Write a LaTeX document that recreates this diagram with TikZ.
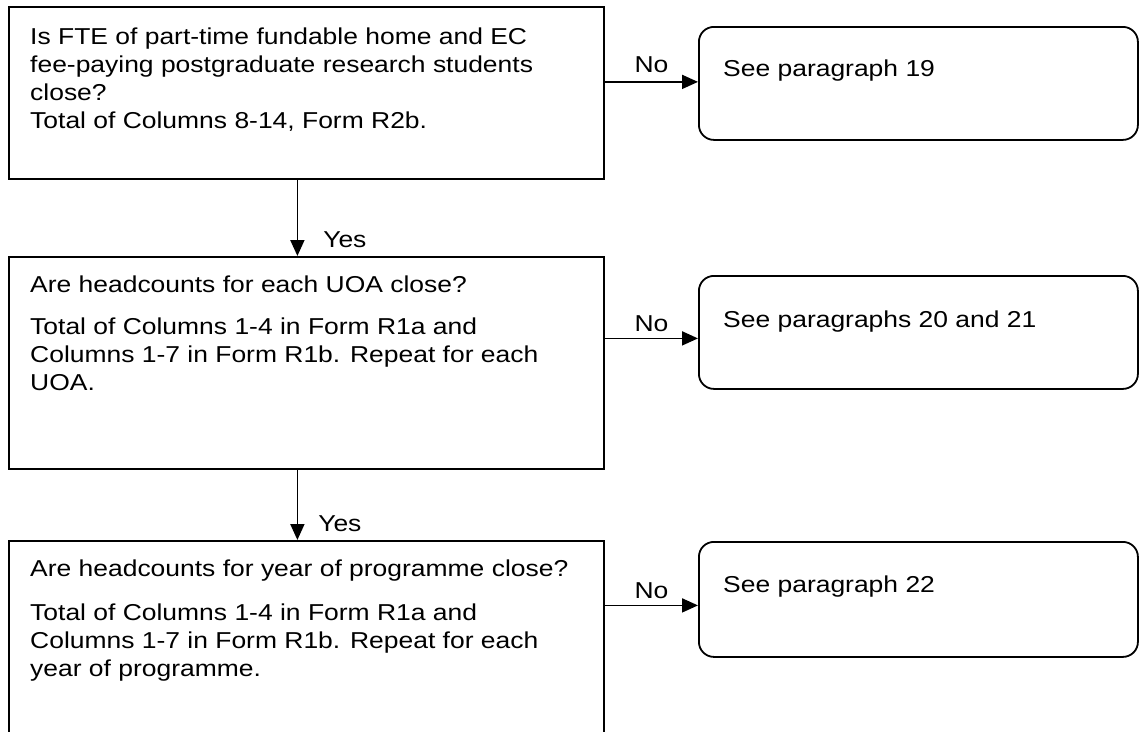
\documentclass[tikz,border=0pt]{standalone}
\usepackage{fontspec}
\setmainfont{Liberation Sans}[FakeStretch=1.15]
\usetikzlibrary{arrows.meta,calc}
\begin{document}
\begin{tikzpicture}[x=1pt,y=-1pt,
    qbox/.style={draw,line width=1.8pt,anchor=north west,inner sep=0pt,minimum width=595pt},
    abox/.style={draw,line width=1.8pt,rounded corners=15pt,anchor=north west,inner sep=0pt,minimum width=439pt},
    btext/.style={anchor=north west,inner sep=0pt,align=left,font=\fontsize{23}{28}\selectfont},
    lbl/.style={inner sep=0pt,font=\fontsize{23}{28}\selectfont},
    yes/.style={lbl,pos=1,anchor=base west,yshift=8.5pt},
    arr/.style={line width=1.8pt,-{Triangle[length=16pt,width=14pt]}}]
    \useasboundingbox (0,0) rectangle (1139,731);
    \clip (0,0) rectangle (1139,731);
    \node[qbox,minimum height=172pt] (q1) at (8,6) {};
    \node[qbox,minimum height=212pt] (q2) at (8,256) {};
    \node[qbox,minimum height=260pt] (q3) at (8,540) {};
    \node[abox,minimum height=113pt] (r1) at (698,26) {};
    \node[abox,minimum height=113pt] (r2) at (698,275) {};
    \node[abox,minimum height=115pt] (r3) at (698,541) {};
    \node[btext] (t1) at ($(q1.north west)+(22,22)$) {Is FTE of part-time fundable home and EC\\
        fee-paying postgraduate research students\\ close?\\ Total of Columns 8-14, Form R2b.};
    \node[btext] (t2) at ($(q2.north west)+(22,20)$) {Are headcounts for each UOA close?\\[14pt]
        Total of Columns 1-4 in Form R1a and\\ Columns 1-7 in Form R1b. Repeat for each\\ UOA.};
    \node[btext] (t3) at ($(q3.north west)+(22,20)$) {Are headcounts for year of programme close?\\[16pt]
        Total of Columns 1-4 in Form R1a and\\ Columns 1-7 in Form R1b. Repeat for each\\ year of programme.};
    \node[btext] (s1) at ($(r1.north west)+(25,34)$) {See paragraph 19};
    \node[btext] (s2) at ($(r2.north west)+(25,36)$) {See paragraphs 20 and 21};
    \node[btext] (s3) at ($(r3.north west)+(25,35)$) {See paragraph 22};
    \draw[arr] ($(q1.east |- r1.west)+(0,-1.5)$) -- node[lbl,above=8pt] {No} ($(r1.west)+(0,-1.5)$);
    \draw[arr] ($(q2.east |- r2.west)+(0,6)$) -- node[lbl,above=6pt] {No} ($(r2.west)+(0,6)$);
    \draw[arr] ($(q3.east |- r3.west)+(0,6)$) -- node[lbl,above=6pt] {No} ($(r3.west)+(0,6)$);
    \draw[arr] ($(q1.south)+(-9,0)$) -- node[yes,xshift=25pt] {Yes} ($(q2.north)+(-9,0)$);
    \draw[arr] ($(q2.south)+(-9,0)$) -- node[yes,xshift=20pt] {Yes} ($(q3.north)+(-9,0)$);
\end{tikzpicture}
\end{document}
